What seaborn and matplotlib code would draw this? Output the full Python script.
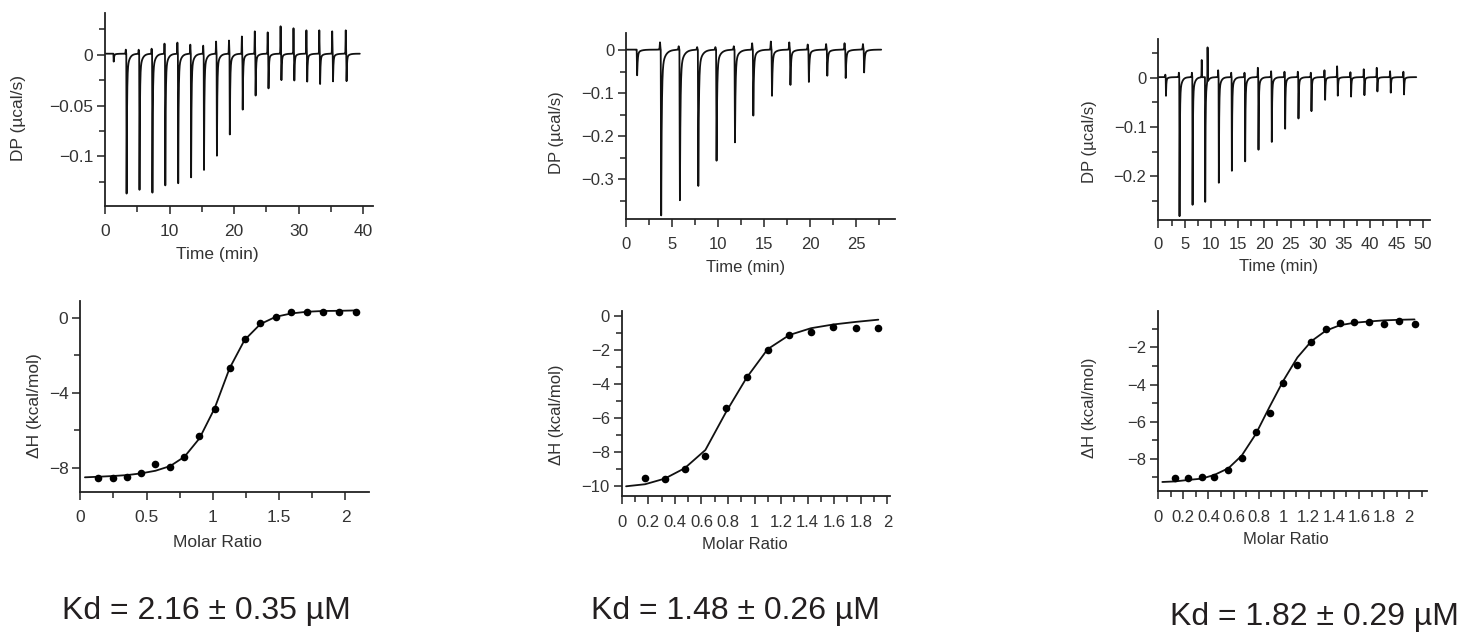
import numpy as np
import pandas as pd
import matplotlib

matplotlib.use("Agg")
import matplotlib.pyplot as plt
import seaborn as sns

# ---- raw thermograms: injection time (min), peak DP and upstroke (µcal/s) ----
END_A = 39.5
INJ_T_A = [1.3, 3.3, 5.3, 7.3, 9.3, 11.3, 13.3, 15.3, 17.3, 19.3, 21.3, 23.3,
           25.3, 27.3, 29.3, 31.3, 33.3, 35.3, 37.4]
PEAK_A = [-0.008, -0.140, -0.135, -0.141, -0.131, -0.129, -0.126, -0.115, -0.102,
          -0.082, -0.055, -0.042, -0.035, -0.026, -0.027, -0.028, -0.030, -0.028, -0.027]
UP_A = [0.0, 0.004, 0.004, 0.005, 0.010, 0.011, 0.009, 0.008, 0.012, 0.013, 0.017,
        0.022, 0.021, 0.027, 0.025, 0.023, 0.023, 0.022, 0.023]

END_B = 27.7
INJ_T_B = [1.16, 3.77, 5.8, 7.8, 9.78, 11.78, 13.77, 15.8, 17.8, 19.8, 21.8, 23.8, 25.8]
PEAK_B = [-0.060, -0.386, -0.358, -0.322, -0.264, -0.219, -0.155, -0.109, -0.082,
          -0.076, -0.062, -0.067, -0.053]
UP_B = [0.0, 0.017, 0.008, 0.006, 0.006, 0.008, 0.015, 0.019, 0.017, 0.012, 0.013,
        0.015, 0.013]

END_C = 48.7
INJ_T_C = [1.4, 3.96, 6.42, 8.81, 11.38, 13.84, 16.35, 18.87, 21.38, 23.9, 26.42,
           28.87, 31.45, 33.84, 36.35, 38.87, 41.32, 43.84, 46.35]
PEAK_C = [-0.038, -0.282, -0.268, -0.258, -0.216, -0.195, -0.178, -0.149, -0.132,
          -0.108, -0.086, -0.069, -0.047, -0.039, -0.040, -0.037, -0.030, -0.032, -0.035]
UP_C = [0.005, 0.009, 0.009, 0.0, 0.014, 0.009, 0.009, 0.019, 0.012, 0.011, 0.011,
        0.009, 0.014, 0.022, 0.010, 0.016, 0.019, 0.012, 0.011]
ARTIFACT_T_C = [8.2, 9.3]
ARTIFACT_H_C = [0.035, 0.071]

# ---- integrated heats (kcal/mol) vs molar ratio, plus fitted values ----
RATIO_A = [0.136, 0.249, 0.355, 0.458, 0.567, 0.678, 0.786, 0.899, 1.013, 1.126,
           1.239, 1.358, 1.474, 1.592, 1.710, 1.829, 1.952, 2.076]
DH_A = [-8.58, -8.58, -8.49, -8.31, -7.81, -7.99, -7.42, -6.30, -4.89, -2.70,
        -1.16, -0.30, 0.02, 0.28, 0.28, 0.30, 0.32, 0.30]
FIT_X_A = [0.035] + RATIO_A
FIT_Y_A = [-8.52, -8.49, -8.45, -8.40, -8.31, -8.17, -7.92, -7.42, -6.44, -4.84,
           -2.70, -1.19, -0.34, 0.05, 0.23, 0.32, 0.36, 0.37, 0.39]

RATIO_B = [0.176, 0.324, 0.474, 0.630, 0.785, 0.941, 1.099, 1.262, 1.425, 1.594,
           1.762, 1.932]
DH_B = [-9.51, -9.59, -8.96, -8.20, -5.38, -3.56, -2.00, -1.14, -0.96, -0.63,
        -0.72, -0.68]
FIT_X_B = [0.033] + RATIO_B
FIT_Y_B = [-10.0, -9.88, -9.55, -8.94, -7.87, -5.65, -3.62, -1.95, -1.12, -0.72,
           -0.50, -0.35, -0.22]

RATIO_C = [0.133, 0.239, 0.346, 0.447, 0.559, 0.665, 0.777, 0.888, 0.997, 1.109,
           1.221, 1.335, 1.449, 1.564, 1.681, 1.803, 1.923, 2.043]
DH_C = [-9.04, -9.04, -9.00, -9.00, -8.61, -7.98, -6.56, -5.55, -3.90, -2.95,
        -1.69, -1.01, -0.67, -0.63, -0.63, -0.71, -0.60, -0.72]
FIT_X_C = [0.032] + RATIO_C
FIT_Y_C = [-9.25, -9.22, -9.14, -9.07, -8.87, -8.51, -7.83, -6.67, -5.19, -3.79,
           -2.54, -1.66, -1.10, -0.80, -0.67, -0.60, -0.54, -0.51, -0.49]

KD_LABELS = ["Kd = 2.16 ± 0.35 µM", "Kd = 1.48 ± 0.26 µM", "Kd = 1.82 ± 0.29 µM"]

W, H = 1465, 633
INK = "#222222"
TEXT = "#333333"


def thermogram(t_end, inj_t, peaks, ups, art_t=(), art_h=()):
    t = np.linspace(0, t_end, 9000)
    dp = np.full_like(t, 0.001)
    for ti, d, u in zip(inj_t, peaks, ups):
        s = t - ti
        drop = np.clip(s / 0.05, 0, 1)
        after = np.clip(s - 0.05, 0, None)
        decay = 0.86 * np.exp(-after / 0.06) + 0.14 * np.exp(-after / 0.35)
        dp += d * drop * decay
        dp += u * np.exp(-((s + 0.08) / 0.04) ** 2)
    for ta, h in zip(art_t, art_h):
        dp += h * np.exp(-((t - ta) / 0.04) ** 2)
    return pd.DataFrame({"time": t, "dp": dp})


def px_axes(fig, x0, y0, x1, y1):
    return fig.add_axes([x0 / W, 1 - y1 / H, (x1 - x0) / W, (y1 - y0) / H])


def fmt(v):
    return f"{v:g}".replace("-", "\u2212")


def style(ax, xlim, ylim, xmaj, xmin, ymaj, ymin, xpad, size):
    ax.set_xlim(*xlim)
    ax.set_ylim(*ylim)
    ax.set_xticks(xmaj)
    ax.set_xticklabels([fmt(v) for v in xmaj])
    ax.set_xticks(xmin, minor=True)
    ax.set_yticks(ymaj)
    ax.set_yticklabels([fmt(v) for v in ymaj])
    ax.set_yticks(ymin, minor=True)
    sns.despine(ax=ax)
    for side in ("left", "bottom"):
        ax.spines[side].set_color(INK)
        ax.spines[side].set_linewidth(1.3)
    ax.tick_params(which="major", length=6, width=1.1, color=INK, labelsize=size,
                   labelcolor=TEXT)
    ax.tick_params(which="minor", length=4.5, width=1.1, color=INK)
    ax.tick_params(axis="x", which="major", pad=xpad)
    ax.tick_params(axis="y", which="major", pad=2.5)


sns.set_theme(style="ticks")
plt.rcParams["font.family"] = ["Liberation Sans", "DejaVu Sans"]

fig = plt.figure(figsize=(W / 100, H / 100), dpi=100)

# ---- top row: raw DP ----
top_specs = [
    ((105, 13, 372.7, 206), thermogram(END_A, INJ_T_A, PEAK_A, UP_A),
     (0, 41.5), (-0.1487, 0.041), [0, 10, 20, 30, 40], [5, 15, 25, 35],
     [0, -0.05, -0.1], [0.025, -0.025, -0.075, -0.125],
     (-0.295, 0.456), (0.42, -0.215), 7, 12.5),
    ((626, 33.3, 895, 219), thermogram(END_B, INJ_T_B, PEAK_B, UP_B),
     (0, 29.2), (-0.393, 0.039), [0, 5, 10, 15, 20, 25], [2.5, 7.5, 12.5, 17.5, 22.5, 27.5],
     [0, -0.1, -0.2, -0.3], [-0.05, -0.15, -0.25, -0.35],
     (-0.230, 0.466), (0.445, -0.221), 7, 12),
    ((1158.3, 39.3, 1430, 220),
     thermogram(END_C, INJ_T_C, PEAK_C, UP_C, ARTIFACT_T_C, ARTIFACT_H_C),
     (0, 51.3), (-0.2885, 0.0777), list(range(0, 51, 5)), list(np.arange(2.5, 51, 5)),
     [0, -0.1, -0.2], [0.05, -0.05, -0.15, -0.25],
     (-0.2256, 0.433), (0.444, -0.215), 6.5, 12),
]
for box, trace, xlim, ylim, xmaj, xmin, ymaj, ymin, ylc, xlc, xpad, size in top_specs:
    ax = px_axes(fig, *box)
    sns.lineplot(data=trace, x="time", y="dp", ax=ax, color="#111111", lw=1.3,
                 estimator=None, sort=False)
    style(ax, xlim, ylim, xmaj, xmin, ymaj, ymin, xpad, size)
    ax.set_xlabel("Time (min)", fontsize=size, color=TEXT)
    ax.set_ylabel("DP (µcal/s)", fontsize=size, color=TEXT)
    ax.yaxis.set_label_coords(*ylc)
    ax.xaxis.set_label_coords(*xlc)

# ---- bottom row: integrated heats ----
bottom_specs = [
    ((80.3, 300.7, 369.3, 492.3), RATIO_A, DH_A, FIT_X_A, FIT_Y_A,
     (0, 2.18), (-9.32, 0.91), [0, 0.5, 1, 1.5, 2], [0.25, 0.75, 1.25, 1.75],
     [0, -4, -8], [-2, -6], (-0.1325, 0.451), (0.476, -0.223), 7, 12.5),
    ((621.7, 311, 890, 496), RATIO_B, DH_B, FIT_X_B, FIT_Y_B,
     (0, 2.02), (-10.57, 0.29), [round(v, 1) for v in np.arange(0, 2.01, 0.2)],
     [round(v, 1) for v in np.arange(0.1, 2.0, 0.2)],
     [0, -2, -4, -6, -8, -10], [-1, -3, -5, -7, -9],
     (-0.215, 0.439), (0.46, -0.222), 7.5, 12),
    ((1158.3, 310.7, 1426.7, 490.7), RATIO_C, DH_C, FIT_X_C, FIT_Y_C,
     (0, 2.14), (-9.72, -0.02), [round(v, 1) for v in np.arange(0, 2.01, 0.2)],
     [round(v, 1) for v in np.arange(0.1, 2.11, 0.2)],
     [-2, -4, -6, -8], [-1, -3, -5, -7, -9],
     (-0.228, 0.459), (0.475, -0.227), 8, 12),
]
for box, rx, dh, fx, fy, xlim, ylim, xmaj, xmin, ymaj, ymin, ylc, xlc, xpad, size in bottom_specs:
    ax = px_axes(fig, *box)
    sns.lineplot(x=fx, y=fy, ax=ax, color="#111111", lw=1.3, estimator=None, sort=False)
    sns.scatterplot(x=rx, y=dh, ax=ax, color="#000000", s=30, linewidth=0, zorder=3)
    style(ax, xlim, ylim, xmaj, xmin, ymaj, ymin, xpad, size)
    ax.set_xlabel("Molar Ratio", fontsize=size, color=TEXT)
    ax.set_ylabel("ΔH (kcal/mol)", fontsize=size, color=TEXT)
    ax.yaxis.set_label_coords(*ylc)
    ax.xaxis.set_label_coords(*xlc)

# ---- Kd annotations ----
for label, xc, yb in zip(KD_LABELS, [206.7, 735.5, 1314], [619.3, 619.5, 625]):
    fig.text(xc / W, 1 - yb / H, label, ha="center", va="baseline",
             fontsize=23, color="#231f20")

fig.savefig("out.png", dpi=100)
